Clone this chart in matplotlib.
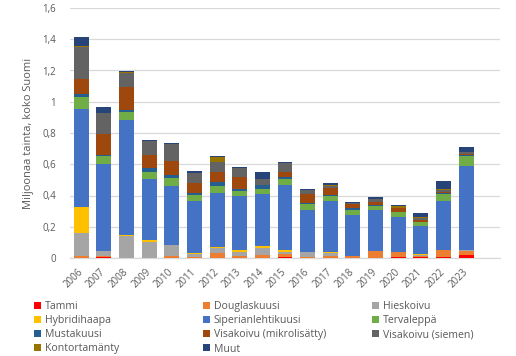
import matplotlib
matplotlib.use("Agg")
import matplotlib.pyplot as plt
import numpy as np
from matplotlib.patches import Patch

plt.rcParams['font.family'] = ['Open Sans', 'DejaVu Sans']

years = ['2006', '2007', '2008', '2009', '2010', '2011', '2012', '2013', '2014',
         '2015', '2016', '2017', '2018', '2019', '2020', '2021', '2022', '2023']

tammi = [0, 0.006, 0, 0, 0, 0, 0, 0, 0, 0.006, 0, 0, 0, 0, 0.006, 0.006, 0.006, 0.019]
douglaskuusi = [0.015, 0.006, 0, 0, 0.013, 0.006, 0.032, 0.013, 0.019, 0.020, 0.006, 0.013, 0.013, 0.045, 0.032, 0.007, 0.045, 0.026]
hieskoivu = [0.145, 0.032, 0.142, 0.103, 0.070, 0.020, 0.032, 0.025, 0.045, 0.012, 0.032, 0.019, 0, 0, 0, 0.006, 0, 0.006]
hybridihaapa = [0.168, 0, 0.006, 0.013, 0, 0.006, 0.007, 0.013, 0.013, 0.013, 0, 0.006, 0, 0, 0, 0.007, 0, 0]
siperianlehtikuusi = [0.625, 0.557, 0.735, 0.390, 0.379, 0.334, 0.346, 0.346, 0.333, 0.417, 0.270, 0.327, 0.261, 0.261, 0.224, 0.178, 0.313, 0.536]
tervaleppa = [0.077, 0.051, 0.051, 0.045, 0.051, 0.038, 0.045, 0.032, 0.032, 0.038, 0.038, 0.032, 0.032, 0.028, 0.032, 0.026, 0.045, 0.064]
mustakuusi = [0.021, 0.007, 0.015, 0.028, 0.019, 0.013, 0.025, 0.013, 0.026, 0.013, 0.007, 0.007, 0.013, 0.004, 0, 0, 0.006, 0.006]
visakoivu_mikro = [0.094, 0.134, 0.145, 0.081, 0.089, 0.064, 0.064, 0.077, 0, 0.032, 0.057, 0.045, 0.026, 0.019, 0.025, 0.013, 0.008, 0.009]
visakoivu_siemen = [0.204, 0.134, 0.087, 0.089, 0.109, 0.064, 0.064, 0.058, 0.038, 0.058, 0.026, 0.010, 0.006, 0.020, 0, 0.012, 0.011, 0.011]
kontortamanty = [0.008, 0, 0.008, 0, 0, 0, 0.032, 0, 0, 0, 0, 0.006, 0, 0, 0.011, 0.007, 0.006, 0]
muut = [0.056, 0.038, 0.007, 0.006, 0.006, 0.012, 0.007, 0.006, 0.045, 0.006, 0.006, 0.013, 0.006, 0.012, 0.008, 0.025, 0.051, 0.032]

names = ['Tammi', 'Douglaskuusi', 'Hieskoivu', 'Hybridihaapa', 'Siperianlehtikuusi',
         'Tervaleppä', 'Mustakuusi', 'Visakoivu (mikrolisätty)', 'Visakoivu (siemen)',
         'Kontortamänty', 'Muut']
series = [tammi, douglaskuusi, hieskoivu, hybridihaapa, siperianlehtikuusi, tervaleppa,
          mustakuusi, visakoivu_mikro, visakoivu_siemen, kontortamanty, muut]
colors = ['#FF0000', '#ED7D31', '#A5A5A5', '#FFC000', '#4472C4', '#70AD47',
          '#255E91', '#9E480E', '#636363', '#997300', '#264478']

W, H = 516, 356
fig = plt.figure(figsize=(W / 100, H / 100), dpi=100)
ax = fig.add_axes([70 / W, 1 - 258 / H, 430 / W, 250 / H])

x = np.arange(len(years))
bottom = np.zeros(len(years))
for vals, name, col in zip(series, names, colors):
    v = np.array(vals)
    ax.bar(x, v, 0.66, bottom=bottom, color=col, label=name, zorder=3)
    bottom += v

ax.set_xlim(-0.5, 18.5)
ax.set_ylim(0, 1.6)
yt = np.arange(0, 1.61, 0.2)
ax.set_yticks(yt)
ax.set_yticklabels([('%g' % round(t, 1)).replace('.', ',') for t in yt])
ax.set_xticks(x)
ax.set_xticklabels(years, rotation=45, ha='right', va='center', rotation_mode='anchor')
ax.tick_params(axis='both', length=0, colors='#595959', labelsize=7)
ax.tick_params(axis='y', pad=10)
ax.tick_params(axis='x', pad=9)
ax.grid(axis='y', color='#D9D9D9', lw=0.9, zorder=0)
for s in ['top', 'right', 'left']:
    ax.spines[s].set_visible(False)
ax.spines['bottom'].set_color('#D9D9D9')
ax.spines['bottom'].set_linewidth(0.9)

ax.set_ylabel('Miljoonaa tainta, koko Suomi', fontsize=8, color='#595959')
ax.yaxis.set_label_coords(-36 / 430, 0.5)

handles = [Patch(facecolor=c, edgecolor='none') for c in colors]
cols = [[0, 3, 6, 9], [1, 4, 7, 10], [2, 5, 8]]
xs = [34, 203, 372]
for xi, idx in zip(xs, cols):
    fig.legend([handles[i] for i in idx], [names[i] for i in idx],
               loc='upper left', bbox_to_anchor=(xi / W, 1 - 301 / H),
               frameon=False, fontsize=7.6, labelcolor='#595959',
               handlelength=0.65, handleheight=0.65, handletextpad=0.35,
               labelspacing=0.3, borderpad=0, borderaxespad=0)

fig.savefig('out.png', dpi=100)
